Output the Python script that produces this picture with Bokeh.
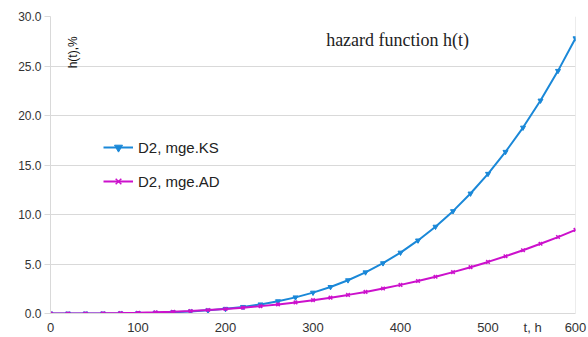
from bokeh.plotting import figure
from bokeh.models import Range1d, Legend, LegendItem, Label, FixedTicker, SingleIntervalTicker, NumeralTickFormatter
from bokeh.embed import file_html
from bokeh.resources import INLINE

t = [0, 20, 40, 60, 80, 100, 120, 140, 160, 180, 200, 220, 240, 260, 280, 300,
     320, 340, 360, 380, 400, 420, 440, 460, 480, 500, 520, 540, 560, 580, 600]
ks = [0.0, 0.0, 0.001, 0.005, 0.016, 0.036, 0.07, 0.124, 0.204, 0.316, 0.47,
      0.666, 0.92, 1.24, 1.63, 2.11, 2.68, 3.36, 4.16, 5.08, 6.15, 7.38, 8.77,
      10.34, 12.12, 14.11, 16.33, 18.78, 21.51, 24.51, 27.8]
ad = [0.0, 0.001, 0.006, 0.019, 0.041, 0.073, 0.119, 0.179, 0.254, 0.347, 0.46,
      0.59, 0.745, 0.921, 1.12, 1.35, 1.6, 1.88, 2.18, 2.52, 2.89, 3.28, 3.71,
      4.18, 4.68, 5.21, 5.78, 6.39, 7.04, 7.72, 8.45]
series_names = ["D2, mge.KS", "D2, mge.AD"]
colors = ["#1a88d8", "#cc11cc"]
x_ticks = [0, 100, 200, 300, 400, 500, 600]
x_title = "t, h"
x_title_pos = 551

p = figure(width=588, height=337, output_backend="svg", toolbar_location=None,
           x_range=Range1d(0, 600), y_range=Range1d(0, 30),
           min_border_left=50, min_border_right=13, min_border_top=16, min_border_bottom=24)
p.outline_line_color = None
p.background_fill_color = "white"

grid = "#d9d9d9"
p.xgrid.visible = False
p.ygrid.grid_line_color = grid
p.ygrid.grid_line_width = 1

p.xaxis.ticker = FixedTicker(ticks=x_ticks + [x_title_pos])
p.xaxis.major_label_overrides = {x_title_pos: x_title}
p.yaxis.ticker = SingleIntervalTicker(interval=5)
p.yaxis.formatter = NumeralTickFormatter(format="0.0")
for ax in (p.xaxis[0], p.yaxis[0]):
    ax.axis_line_color = grid
    ax.major_tick_line_color = grid
    ax.major_tick_out = 6
    ax.major_tick_in = 0
    ax.minor_tick_line_color = None
    ax.major_label_text_font = "Liberation Sans"
    ax.major_label_text_font_size = "12px"
    ax.major_label_text_color = "#333333"
p.xaxis.major_tick_out = 0
p.xaxis.major_label_text_font_size = "13px"
p.yaxis.major_label_standoff = 3
p.xaxis.major_label_standoff = 6

# right border line
p.line(x=[600, 600], y=[0, 30], line_color=grid, line_width=1)

r1 = p.line(t, ks, line_color=colors[0], line_width=2)
m1 = p.scatter(t, ks, marker="inverted_triangle", size=5, color=colors[0])
r2 = p.line(t, ad, line_color=colors[1], line_width=2)
m2 = p.scatter(t, ad, marker="x", size=5, line_color=colors[1], line_width=1.5)

legend = Legend(items=[LegendItem(label=series_names[0], renderers=[r1, m1]),
                       LegendItem(label=series_names[1], renderers=[r2, m2])],
                location=(53, 122), border_line_color=None, background_fill_alpha=0,
                label_text_font="Liberation Sans", label_text_font_size="15px",
                label_text_color="#222222", glyph_width=30, spacing=14, padding=0,
                margin=0, label_standoff=5)
p.add_layout(legend, "center")

p.add_layout(Label(x=34, y=28.0, text="h(t),%",
                   angle=1.5708, text_font="Liberation Sans", text_font_size="12px",
                   text_color="#111111", text_baseline="bottom", text_align="right"))
p.add_layout(Label(x=315, y=27.6, text="hazard function h(t)",
                   text_font="Liberation Serif", text_font_size="18px",
                   text_color="#222222", text_baseline="middle"))

open("out.html", "w").write(file_html(p, INLINE))
